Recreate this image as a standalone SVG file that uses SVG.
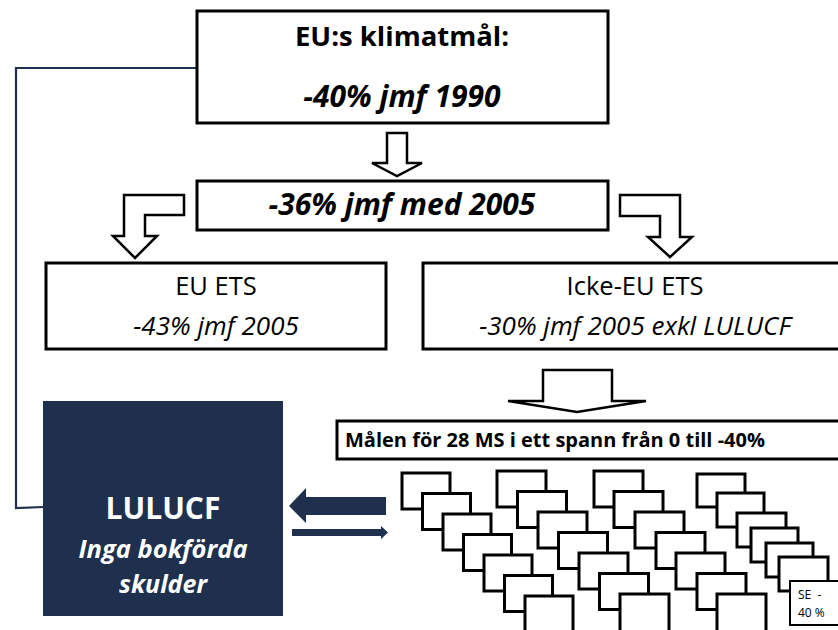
<svg xmlns="http://www.w3.org/2000/svg" width="838" height="630" viewBox="0 0 838 630">
<style>
  .box { fill: #ffffff; stroke: #000000; stroke-width: 3; }
  .ms { fill: #ffffff; stroke: #000000; stroke-width: 3; }
  .blk { fill: #ffffff; stroke: #000000; stroke-width: 2.5; stroke-linejoin: miter; }
  .navy { fill: #1E304E; }
  .t { font-family: "Open Sans", "Noto Sans", sans-serif; fill: #000000; text-anchor: middle; }
  .r { font-weight: 500; }
  .s { text-anchor: start; }
  .b { font-weight: bold; }
  .i { font-style: italic; }
  .w { fill: #ffffff; }
</style>
<rect x="0" y="0" width="838" height="630" fill="#ffffff"/>

<g id="connectors">
  <polyline points="197,68 16,68 16,508 43,507" fill="none" stroke="#1E304E" stroke-width="2.2"/>
  <path class="blk" d="M387,133 L407,133 L407,163 L422,163 L397,176 L372,163 L387,163 Z"/>
  <path class="blk" d="M184,195 L124,195 L124,236 L113,236 L135,258 L157,236 L145,236 L145,215 L184,215 Z"/>
  <path class="blk" d="M620,195 L680,195 L680,237 L692,237 L670,257 L648,237 L660,237 L660,216 L620,216 Z"/>
  <path class="blk" d="M543,370 L612,370 L612,401 L646,401 L577,412 L508,401 L543,401 Z"/>
  <path class="navy" d="M386,497 L306,497 L306,488 L289,506 L306,523 L306,515 L386,515 Z"/>
  <path class="navy" d="M292,529 L381,529 L381,526 L388,532.5 L381,539 L381,536 L292,536 Z"/>
</g>

<g id="node-eu-klimatmal">
  <rect class="box" x="197" y="11" width="411" height="112"/>
  <text class="t b" x="402" y="46" font-size="27.5">EU:s klimatmål:</text>
  <text class="t b i" x="402" y="107" font-size="30">-40% jmf 1990</text>
</g>

<g id="node-36">
  <rect class="box" x="197" y="181" width="411" height="49"/>
  <text class="t b i" x="402" y="215" font-size="30">-36% jmf med 2005</text>
</g>

<g id="node-eu-ets">
  <rect class="box" x="46" y="263" width="340" height="86"/>
  <text class="t r" x="216" y="295" font-size="25.5">EU ETS</text>
  <text class="t r i" x="216" y="335" font-size="26">-43% jmf 2005</text>
</g>

<g id="node-icke-eu-ets">
  <rect class="box" x="423" y="263" width="420" height="86"/>
  <text class="t r" x="635" y="295" font-size="25.5">Icke-EU ETS</text>
  <text class="t r i" x="635" y="335" font-size="26">-30% jmf 2005 exkl LULUCF</text>
</g>

<g id="node-malen">
  <rect class="box" x="337" y="421" width="510" height="38"/>
  <text class="t s b" x="345" y="447" font-size="20">Målen för 28 MS i ett spann från 0 till -40%</text>
</g>

<g id="node-lulucf">
  <rect class="navy" x="43" y="401" width="240" height="215"/>
  <text class="t b w" x="163" y="519" font-size="30">LULUCF</text>
  <text class="t b i w" x="163" y="558" font-size="25.5">Inga bokförda</text>
  <text class="t b i w" x="163" y="593" font-size="25">skulder</text>
</g>

<g id="node-ms-group1">
  <rect class="ms" x="402" y="473" width="48" height="36"/>
  <rect class="ms" x="422.5" y="493.5" width="48" height="36"/>
  <rect class="ms" x="443" y="514" width="48" height="36"/>
  <rect class="ms" x="463.5" y="534.5" width="48" height="36"/>
  <rect class="ms" x="484" y="555" width="48" height="36"/>
  <rect class="ms" x="504.5" y="575.5" width="48" height="36"/>
  <rect class="ms" x="525" y="596" width="48" height="40"/>
</g>

<g id="node-ms-group2">
  <rect class="ms" x="497" y="471" width="49" height="36"/>
  <rect class="ms" x="517.5" y="491.5" width="49" height="36"/>
  <rect class="ms" x="538" y="512" width="49" height="36"/>
  <rect class="ms" x="558.5" y="532.5" width="49" height="36"/>
  <rect class="ms" x="579" y="553" width="49" height="36"/>
  <rect class="ms" x="599.5" y="573.5" width="49" height="36"/>
  <rect class="ms" x="620" y="594" width="49" height="40"/>
</g>

<g id="node-ms-group3">
  <rect class="ms" x="594" y="471" width="49" height="36"/>
  <rect class="ms" x="614" y="491.5" width="49" height="36"/>
  <rect class="ms" x="635" y="512" width="49" height="36"/>
  <rect class="ms" x="656" y="532.5" width="49" height="36"/>
  <rect class="ms" x="676" y="553" width="49" height="36"/>
  <rect class="ms" x="697" y="573.5" width="49" height="36"/>
  <rect class="ms" x="717" y="594" width="49" height="40"/>
</g>

<g id="node-ms-group4">
  <rect class="ms" x="697" y="474" width="48" height="33"/>
  <rect class="ms" x="717" y="493" width="47" height="34"/>
  <rect class="ms" x="737" y="513" width="49" height="34"/>
  <rect class="ms" x="751" y="528" width="47" height="34"/>
  <rect class="ms" x="766" y="543" width="47" height="34"/>
  <rect class="ms" x="779" y="557" width="49" height="34"/>
</g>

<g id="node-se">
  <rect x="790" y="581" width="52" height="44" fill="#ffffff" stroke="#000000" stroke-width="2"/>
  <text class="t s" x="798" y="599" font-size="12">SE&#160; -</text>
  <text class="t s" x="798" y="617" font-size="12">40 %</text>
</g>
</svg>
